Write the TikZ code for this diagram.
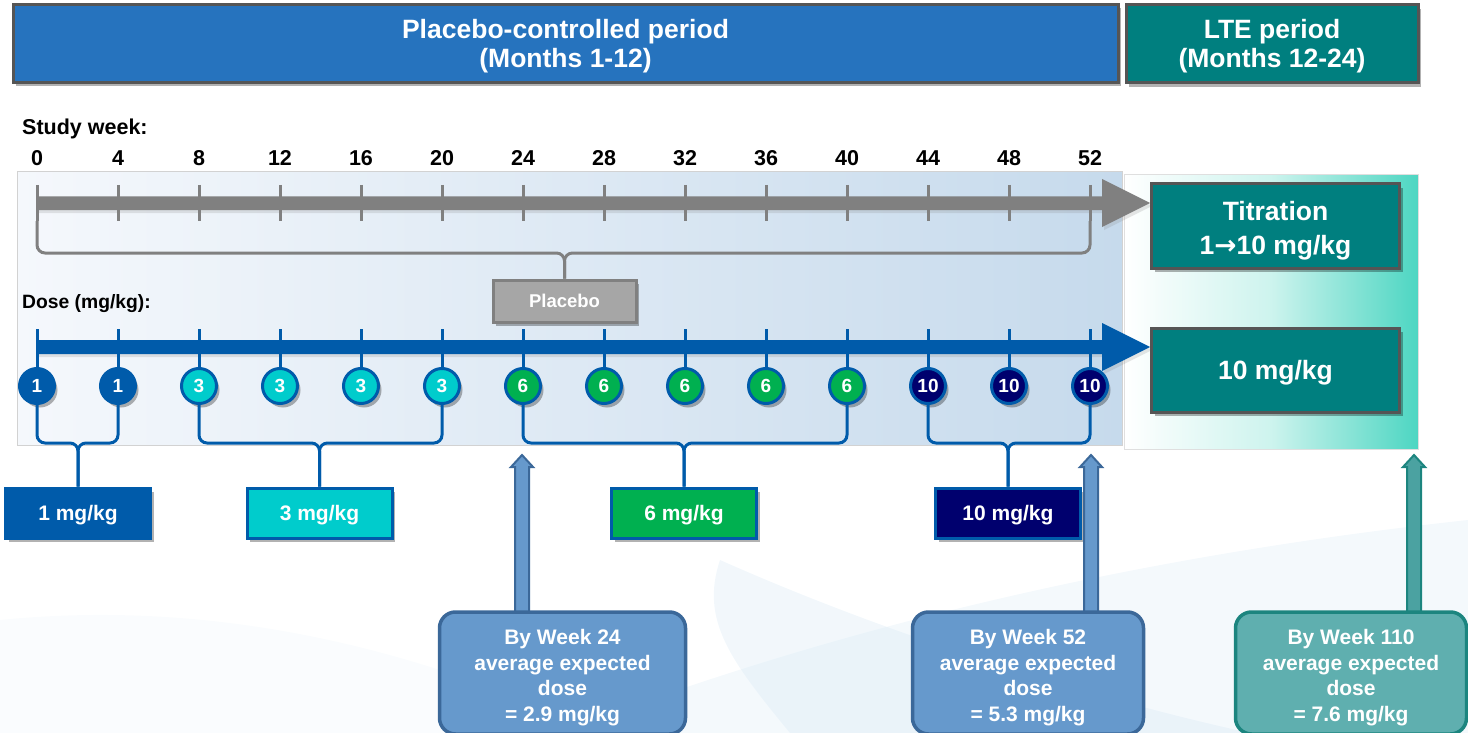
\documentclass[tikz,border=0pt]{standalone}
\usepackage{fontspec}
\setmainfont{Liberation Sans}
\newfontfamily\symf{DejaVu Sans}
\usetikzlibrary{shadows,calc}
\definecolor{hdrblue}{HTML}{2673BE}
\definecolor{hdrteal}{HTML}{007F7F}
\definecolor{hdrgray}{HTML}{555555}
\definecolor{doseblue}{HTML}{005BAA}
\definecolor{dcyan}{HTML}{00CCCC}
\definecolor{dgreen}{HTML}{00B050}
\definecolor{dnavy}{HTML}{00006E}
\definecolor{gline}{HTML}{808080}
\definecolor{pgray}{HTML}{A6A6A6}
\definecolor{bborder}{HTML}{3B6899}
\definecolor{bfill}{HTML}{6699CC}
\definecolor{tborder}{HTML}{1C857F}
\definecolor{tfill}{HTML}{5FAFAF}
\definecolor{panelblue}{HTML}{C6DAEC}
\definecolor{panelwhite}{HTML}{F5F8FC}
\definecolor{mint}{HTML}{4DD6C2}
\definecolor{swoosh}{HTML}{D3E6F3}
\begin{document}
\begin{tikzpicture}[x=1pt,y=-1pt,
  shd/.style={drop shadow={shadow xshift=3pt,shadow yshift=-4pt,opacity=0.3,fill=black}},
  hdr/.style={draw=hdrgray,line width=3pt,text=white,align=center,inner sep=0pt,
    font=\bfseries\fontsize{26.5}{29}\selectfont,text height=50pt,text depth=2.4pt,shd},
  lbl/.style={font=\bfseries\fontsize{21.5}{24}\selectfont,text=black,inner sep=0pt},
  dot/.style={circle,minimum size=35pt,inner sep=0pt,draw=doseblue,line width=3pt,
    text=white,font=\bfseries\fontsize{19}{20}\selectfont,shd},
  gbox/.style={minimum width=145pt,minimum height=50pt,inner sep=0pt,draw=doseblue,line width=3pt,
    text=white,font=\bfseries\fontsize{21}{24}\selectfont,text depth=0pt,shd},
  tbox/.style={minimum width=248pt,minimum height=84pt,inner sep=0pt,fill=hdrteal,draw=hdrgray,
    line width=3pt,text=white,align=center,font=\bfseries\fontsize{26.5}{34}\selectfont,shd},
  ebox/.style={rounded corners=16pt,minimum height=122pt,inner sep=0pt,
    line width=3.5pt,text=white,align=center,font=\bfseries\fontsize{21}{25.7}\selectfont,
    text height=97pt,text depth=0pt},
  bline/.style={doseblue,line width=3pt,rounded corners=8pt},
  gbr/.style={gline,line width=3pt,rounded corners=8pt},
  uparr/.style={line width=2pt,line join=miter}
]
\useasboundingbox (0,0) rectangle (1468,733);
% faint background swooshes
\fill[swoosh,opacity=0.25] (560,733) .. controls (800,640) and (1100,560) .. (1468,520) -- (1468,733) -- cycle;
\fill[swoosh,opacity=0.3] (790,733) .. controls (730,660) and (700,620) .. (720,560) .. controls (900,640) and (1100,700) .. (1250,733) -- cycle;
\fill[swoosh,opacity=0.12] (0,620) .. controls (200,600) and (400,640) .. (600,733) -- (0,733) -- cycle;

% headers
\node[hdr,fill=hdrblue,minimum width=1105pt,minimum height=78pt] (hdrA) at (565.5,43.5)
  {Placebo-controlled period\\(Months 1-12)};
\node[hdr,fill=hdrteal,minimum width=292pt,minimum height=78pt] (hdrB) at (1272,44)
  {LTE period\\(Months 12-24)};

% panels
\path[left color=panelwhite,right color=panelblue,draw=gray!35,line width=1pt]
  (17,172) rectangle (1122,445);
\path[left color=white,right color=mint,middle color=mint!28!white,draw=gray!25,line width=1pt]
  (1124,175) rectangle (1418,449);

% labels
\node[lbl,anchor=base west] (sw) at (22,134.5) {Study week:};
\node[lbl,anchor=base west,font=\bfseries\fontsize{19.3}{22}\selectfont] (dl) at (22,308.5) {Dose (mg/kg):};
\foreach \i in {0,...,13} {
  \pgfmathtruncatemacro\wk{4*\i}
  \node[lbl,anchor=base] (w\i) at (37+81*\i,165.5) {\wk};
}

% gray arrow
\fill[gline,drop shadow={shadow xshift=2pt,shadow yshift=-3pt,opacity=0.2}]
  (37,196.5) -- (1102,196.5) -- (1102,179) -- (1150,203) -- (1102,227) -- (1102,210) -- (37,210) -- cycle;
\foreach \i in {0,...,13} {
  \draw[gline,line width=3pt] (37+81*\i,185) -- (37+81*\i,221);
  \coordinate (gt\i) at (37+81*\i,221);
}
\coordinate (hg) at (0,253);
\node[minimum width=143pt,minimum height=42pt,inner sep=0pt,fill=pgray,draw=gline,line width=3pt,
  text=white,font=\bfseries\fontsize{18.5}{22}\selectfont,text depth=0pt,shd] (plc) at (564.5,301) {Placebo};
\draw[gbr] (gt0) |- (plc.north |- hg) -- (plc.north);
\draw[gbr] (gt13) |- (plc.north |- hg) -- (plc.north);

% blue arrow
\fill[doseblue,drop shadow={shadow xshift=2pt,shadow yshift=-3pt,opacity=0.2}]
  (37,340) -- (1102,340) -- (1102,323) -- (1150,347) -- (1102,371) -- (1102,354) -- (37,354) -- cycle;
\foreach \i/\v/\c in {0/1/doseblue,1/1/doseblue,2/3/dcyan,3/3/dcyan,4/3/dcyan,5/3/dcyan,
  6/6/dgreen,7/6/dgreen,8/6/dgreen,9/6/dgreen,10/6/dgreen,11/10/dnavy,12/10/dnavy,13/10/dnavy} {
  \coordinate (bt\i) at (37+81*\i,329);
  \node[dot,fill=\c] (c\i) at (37+81*\i,386) {\v};
  \draw[doseblue,line width=3pt] (bt\i) -- (c\i.north);
}

% group boxes
\node[gbox,fill=doseblue] (b1) at (78,513) {1 mg/kg};
\node[gbox,fill=dcyan] (b3) at (319.5,513) {3 mg/kg};
\node[gbox,fill=dgreen] (b6) at (684,513) {6 mg/kg};
\node[gbox,fill=dnavy] (b10) at (1008,513) {10 mg/kg};
\coordinate (hb) at (0,443);
\draw[bline] (c0.south) |- (b1.north |- hb) -- (b1.north);
\draw[bline] (c1.south) |- (b1.north |- hb) -- (b1.north);
\draw[bline] (c2.south) |- (b3.north |- hb) -- (b3.north);
\draw[bline] (c5.south) |- (b3.north |- hb) -- (b3.north);
\draw[bline] (c6.south) |- (b6.north |- hb) -- (b6.north);
\draw[bline] (c10.south) |- (b6.north |- hb) -- (b6.north);
\draw[bline] (c11.south) |- (b10.north |- hb) -- (b10.north);
\draw[bline] (c13.south) |- (b10.north |- hb) -- (b10.north);

% LTE boxes
\node[tbox,text height=58pt,text depth=1.4pt] (t1) at (1275.5,226)
  {Titration\\1{\symf\bfseries →}10 mg/kg};
\node[tbox,text depth=0pt] (t2) at (1275.5,370) {10 mg/kg};

% expected-dose boxes and arrows
\coordinate (tipA) at (522,455);
\coordinate (tipB) at (1091,455);
\coordinate (tipC) at (1414,455);
\coordinate (eb) at (0,614);
\foreach \t/\f/\d in {tipA/bfill/bborder,tipB/bfill/bborder,tipC/tfill!70!tborder/tborder} {
  \filldraw[uparr,fill=\f,draw=\d]
    ($(\t)+(-7,12)$) -- ($(\t)+(-11,12)$) -- (\t) -- ($(\t)+(11,12)$) -- ($(\t)+(7,12)$)
    -- ($(\t |- eb)+(7,0)$) -- ($(\t |- eb)+(-7,0)$) -- cycle;
}
\node[ebox,fill=bfill,draw=bborder,minimum width=246pt] (e1) at (562.5,673)
  {By Week 24\\average expected\\dose\\= 2.9 mg/kg};
\node[ebox,fill=bfill,draw=bborder,minimum width=231pt] (e2) at (1028,673)
  {By Week 52\\average expected\\dose\\= 5.3 mg/kg};
\node[ebox,fill=tfill,draw=tborder,minimum width=231pt] (e3) at (1351,673)
  {By Week 110\\average expected\\dose\\= 7.6 mg/kg};
\end{tikzpicture}
\end{document}
